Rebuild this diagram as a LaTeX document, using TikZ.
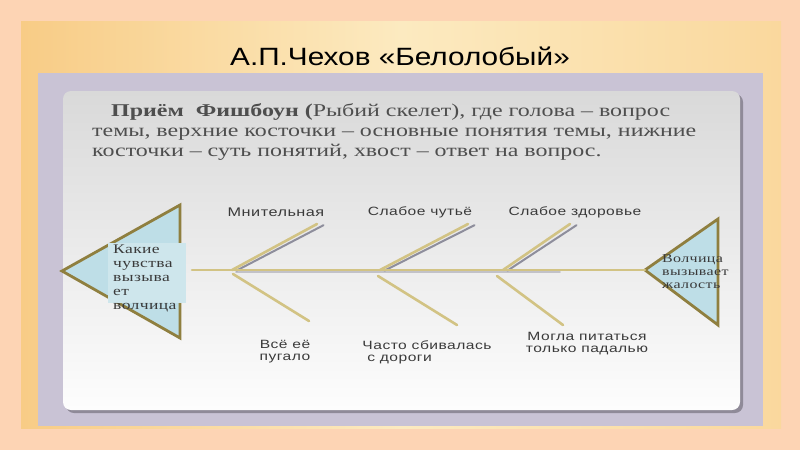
\documentclass[tikz,border=0pt]{standalone}
\usepackage{fontspec}
\setmainfont{Liberation Serif}
\newfontfamily\titlefont[FakeStretch=1.19]{Liberation Sans}
\newfontfamily\bodyfont[FakeStretch=1.33]{Liberation Serif}
\newfontfamily\labelfont[FakeStretch=1.3,LetterSpace=4]{Liberation Sans}
\newfontfamily\boxfont[FakeStretch=1.33,LetterSpace=3]{Liberation Serif}
\definecolor{peach}{HTML}{FDD4B4}
\definecolor{slideA}{HTML}{F8CC86}
\definecolor{slideB}{HTML}{FCEAC0}
\definecolor{lav}{HTML}{C9C3D5}
\definecolor{cardshadow}{HTML}{8F8A98}
\definecolor{cardtop}{HTML}{D9D9D9}
\definecolor{cardbot}{HTML}{FDFDFD}
\definecolor{bone}{HTML}{D2C384}
\definecolor{boneshadow}{HTML}{8E8E9C}
\definecolor{finedge}{HTML}{8F7F3F}
\definecolor{finfill}{HTML}{BEDEE7}
\definecolor{boxfill}{HTML}{CEE6EC}
\definecolor{txt}{HTML}{3A3A3A}
\tikzset{
  bonestyle/.style={draw=bone, line width=2.6pt, line cap=round},
  shadowbone/.style={draw=boneshadow, line width=2pt, line cap=round},
  finstyle/.style={draw=finedge, line width=2.8pt, fill=finfill, line join=miter},
  lbl/.style={font=\labelfont\fontsize{12}{12.5}\selectfont, text=txt, inner sep=0pt, align=center},
  bodyline/.style={font=\bodyfont\fontsize{18}{20}\selectfont, text=txt!90!white, inner sep=0pt, anchor=base west},
  finlines/.style={font=\boxfont\fontsize{13.2}{14}\selectfont, text=txt, inner sep=0pt, align=left}
}
\begin{document}
\begin{tikzpicture}[x=1pt,y=-1pt]
\useasboundingbox (0,0) rectangle (800,450);
% background
\fill[peach] (0,0) rectangle (800,450);
\shade[left color=slideA, right color=slideA!60!slideB, middle color=slideB] (21,21) rectangle (781,428);
\fill[lav] (38,73) rectangle (763,426);
\fill[cardshadow, rounded corners=8pt] (66,94) rectangle (743,413);
\shade[top color=cardtop, bottom color=cardbot, rounded corners=8pt] (63,91) rectangle (740,410);
% title
\node[font=\titlefont\fontsize{25}{25}\selectfont, inner sep=0pt, anchor=base] (title) at (400,65) {А.П.Чехов «Белолобый»};
% body text
\node[bodyline] (l1) at (111,116) {\textbf{Приём\ \ Фишбоун (}Рыбий скелет), где голова – вопрос};
\node[bodyline] (l2) at (92,136) {темы, верхние косточки – основные понятия темы, нижние};
\node[bodyline] (l3) at (92,156) {косточки – суть понятий, хвост – ответ на вопрос.};
% head and tail
\draw[finstyle] (62,271) -- (180,205) -- (180,338) -- cycle;
\draw[finstyle] (645,270) -- (718,219) -- (718,325) -- cycle;
\node[fill=boxfill, minimum width=78pt, minimum height=60pt, inner sep=0pt] (qbox) at (147,273) {};
\node[finlines, anchor=north west] (q) at (113,245) {Какие\\чувства\\вызыва\\ет\\волчица};
\node[finlines, anchor=north west, font=\boxfont\fontsize{12}{13}\selectfont] (a) at (662,254) {Волчица\\вызывает\\жалость};
% spine coordinates
\coordinate (s0) at (192,270);
\coordinate (s1) at (645,270);
\coordinate (u1a) at (232,270); \coordinate (u1b) at (317,224);
\coordinate (u2a) at (380,270); \coordinate (u2b) at (468,224);
\coordinate (u3a) at (503,270); \coordinate (u3b) at (570,224);
\coordinate (g1a) at (236.5,270.6); \coordinate (g1b) at (323.5,225.2);
\coordinate (g2a) at (384.5,270.6); \coordinate (g2b) at (474.5,225.2);
\coordinate (g3a) at (507.5,270.6); \coordinate (g3b) at (576.5,225.2);
\coordinate (d1a) at (233,274); \coordinate (d1b) at (309,321);
\coordinate (d2a) at (378,276); \coordinate (d2b) at (457,325);
\coordinate (d3a) at (497,276); \coordinate (d3b) at (563,325);
\coordinate (sg0) at (236,271.8); \coordinate (sg1) at (560,271.8);
% shadows
\draw[shadowbone, draw opacity=0.45, line width=1.6pt] (sg0) -- (sg1);
\draw[shadowbone] (g1a) -- (g1b);
\draw[shadowbone] (g2a) -- (g2b);
\draw[shadowbone] (g3a) -- (g3b);
% bones
\draw[bonestyle] (s0) -- (s1);
\draw[bonestyle] (u1a) -- (u1b);
\draw[bonestyle] (u2a) -- (u2b);
\draw[bonestyle] (u3a) -- (u3b);
\draw[bonestyle] (d1a) -- (d1b);
\draw[bonestyle] (d2a) -- (d2b);
\draw[bonestyle] (d3a) -- (d3b);
% labels
\node[lbl, font=\labelfont\fontsize{12.5}{13}\selectfont] (m1) at (276,212) {Мнительная};
\node[lbl] (m2) at (420,212) {Слабое чутьё};
\node[lbl] (m3) at (575,212) {Слабое здоровье};
\node[lbl, anchor=north] (n1) at (285,340) {Всё её\\пугало};
\node[lbl, anchor=north, align=left] (n2) at (427,340) {Часто сбивалась\\\ с дороги};
\node[lbl, anchor=north] (n3) at (587,332) {Могла питаться\\только падалью};
\end{tikzpicture}
\end{document}
